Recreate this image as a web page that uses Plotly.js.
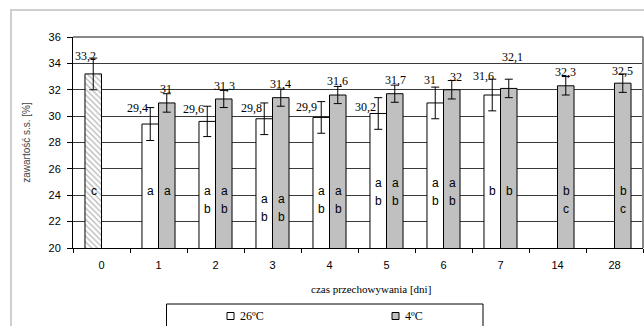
<!DOCTYPE html>
<html>
<head>
<meta charset="utf-8">
<script src="https://cdn.plot.ly/plotly-3.0.1.min.js"></script>
<style>
  html, body { margin: 0; padding: 0; background: #fff; }
  #chart { width: 644px; height: 326px; }
</style>
</head>
<body>
<div id="chart"></div>
<script>
// Storage time (days) and dry-matter content [%] at two temperatures
const days = ['0', '1', '2', '3', '4', '5', '6', '7', '14', '28'];
const seriesNames = ['26ºC', '4ºC'];
const dm26 = [33.2, 29.4, 29.6, 29.8, 29.9, 30.2, 31.0, 31.6, null, null];
const dm4  = [null, 31.0, 31.3, 31.4, 31.6, 31.7, 32.0, 32.1, 32.3, 32.5];
const sd26 = [1.2, 1.25, 1.15, 1.2, 1.2, 1.2, 1.2, 1.2, null, null];
const sd4  = [null, 0.7, 0.65, 0.65, 0.65, 0.65, 0.7, 0.7, 0.7, 0.7];
// homogeneous groups
const groups26 = ['c', 'a', 'ab', 'ab', 'ab', 'ab', 'ab', 'b', '', ''];
const groups4  = ['', 'a', 'ab', 'ab', 'ab', 'ab', 'ab', 'b', 'bc', 'bc'];

// ---- placement (pixels / axis units), kept apart from the data ----
const W = 644, H = 326;
const M = { l: 73, r: 1, t: 37, b: 78 };
const PW = W - M.l - M.r, PH = H - M.t - M.b;
const px2x = p => (p - M.l) / PW;
const px2y = p => (H - M.b - p) / PH;

// value-label nudges relative to the top of each error bar
const lab26dx = [-16, -21, -22, -21, -23, -21, -13.5, -17.5];
const lab26dy = [2, 0, -3, -5, -5, -9, 7, 3];
const lab4dx  = [0, 7.5, 8.5, 8, 8, 9, 12, 11.5, 8, 8];
const lab4dy  = [0, 5, 4, 5, 5, 5, 4, 22, 5, 3];
// vertical position of the first group letter inside the bars
const letterY = [24.3, 24.3, 24.3, 23.7, 24.3, 24.9, 24.9, 24.3, 24.3, 24.3];

const fmt = v => Number.isInteger(v) ? String(v) : String(v).replace('.', ',');

const serif = 'Liberation Serif, Times New Roman, serif';
const sans = 'Liberation Sans, Arial, sans-serif';

const traces = [
  {
    type: 'bar', name: seriesNames[0], x: days, y: dm26,
    marker: {
      color: '#ffffff',
      line: { color: '#000', width: 1 },
      pattern: {
        shape: days.map(d => d === '0' ? '\\' : ''),
        fgcolor: '#6a6a6a', size: 4, solidity: 0.3, fillmode: 'overlay'
      }
    },
    error_y: { type: 'data', array: sd26, visible: true, color: '#000', thickness: 1, width: 4 },
    showlegend: false, hoverinfo: 'skip'
  },
  {
    type: 'bar', name: seriesNames[1], x: days, y: dm4,
    marker: { color: '#c0c0c0', line: { color: '#000', width: 1 } },
    error_y: { type: 'data', array: sd4, visible: true, color: '#000', thickness: 1, width: 4 },
    showlegend: false, hoverinfo: 'skip'
  }
];

// annotations on a category axis are placed by category index
const annotations = [];
// value labels
dm26.forEach((v, i) => {
  if (v == null) return;
  annotations.push({
    x: i, y: v + sd26[i], text: fmt(v), showarrow: false,
    xanchor: 'center', yanchor: 'middle', xshift: lab26dx[i], yshift: lab26dy[i],
    font: { family: serif, size: 12, color: '#000' }
  });
});
dm4.forEach((v, i) => {
  if (v == null) return;
  annotations.push({
    x: i, y: v + sd4[i], text: fmt(v), showarrow: false,
    xanchor: 'center', yanchor: 'middle', xshift: lab4dx[i], yshift: lab4dy[i],
    font: { family: serif, size: 12, color: '#000' }
  });
});
// group letters inside the bars, one per line
[[groups26, -8], [groups4, 8.5]].forEach(([g, dx]) => {
  g.forEach((s, i) => {
    s.split('').forEach((ch, k) => {
      annotations.push({
        x: i, y: letterY[i], text: ch, showarrow: false,
        xanchor: 'center', yanchor: 'middle', xshift: dx, yshift: -18 * k,
        font: { family: sans, size: 12, color: '#000' }
      });
    });
  });
});
// x axis title
annotations.push({
  xref: 'paper', yref: 'paper', x: px2x(371), y: px2y(289), text: 'czas przechowywania [dni]',
  showarrow: false, xanchor: 'center', yanchor: 'middle',
  font: { family: serif, size: 11, color: '#000' }
});
// legend entries
const legItems = [
  { name: seriesNames[0], fill: '#ffffff', sq: 227, tx: 238 },
  { name: seriesNames[1], fill: '#c0c0c0', sq: 392, tx: 403 }
];
const legY = 316;
const shapes = [
  // outer chart frame
  { type: 'rect', xref: 'paper', yref: 'paper', x0: px2x(11), x1: px2x(W + 20), y0: px2y(H + 20), y1: px2y(10),
    line: { color: '#cfcfcf', width: 2 }, layer: 'below' },
  // plot area top and right borders
  { type: 'line', xref: 'paper', yref: 'paper', x0: 0, x1: 1, y0: 1, y1: 1, line: { color: '#888', width: 2 } },
  { type: 'line', xref: 'paper', yref: 'paper', x0: 1, x1: 1, y0: 0, y1: 1, line: { color: '#888', width: 2 } },
  // legend box
  { type: 'rect', xref: 'paper', yref: 'paper', x0: px2x(166.5), x1: px2x(483), y0: px2y(H + 10), y1: px2y(304),
    line: { color: '#000', width: 1 }, fillcolor: '#fff' }
];
legItems.forEach(it => {
  shapes.push({
    type: 'rect', xref: 'paper', yref: 'paper', x0: px2x(it.sq), x1: px2x(it.sq + 7),
    y0: px2y(legY + 3.5), y1: px2y(legY - 3.5), line: { color: '#000', width: 1 }, fillcolor: it.fill
  });
  annotations.push({
    xref: 'paper', yref: 'paper', x: px2x(it.tx), y: px2y(legY), text: it.name, showarrow: false,
    xanchor: 'left', yanchor: 'middle', font: { family: serif, size: 12, color: '#000' }
  });
});

const layout = {
  width: W, height: H,
  margin: { l: M.l, r: M.r, t: M.t, b: M.b, pad: 0 },
  paper_bgcolor: '#fff', plot_bgcolor: '#fff',
  barmode: 'group', bargap: 0.42, bargroupgap: 0,
  showlegend: false,
  xaxis: {
    type: 'category', categoryorder: 'array', categoryarray: days,
    range: [-0.5, days.length - 0.5], fixedrange: true,
    showline: true, linecolor: '#000', linewidth: 1,
    ticks: 'outside', tickson: 'boundaries', ticklen: 4, tickcolor: '#000',
    showgrid: false, zeroline: false, tickangle: 0,
    tickfont: { family: sans, size: 11, color: '#000' }, ticklabelstandoff: 7
  },
  yaxis: {
    range: [20, 36], dtick: 2, tick0: 20,
    showline: true, linecolor: '#000', linewidth: 1,
    ticks: 'outside', ticklen: 5, tickcolor: '#000',
    showgrid: true, gridcolor: '#3a3a3a', gridwidth: 1, zeroline: false,
    tickfont: { family: sans, size: 11, color: '#000' }, ticklabelstandoff: 4,
    title: { text: 'zawartość s.s. [%]', standoff: 16, font: { family: sans, size: 10, color: '#444' } }
  },
  annotations: annotations,
  shapes: shapes
};

Plotly.newPlot('chart', traces, layout, { staticPlot: true, displayModeBar: false });
</script>
</body>
</html>
